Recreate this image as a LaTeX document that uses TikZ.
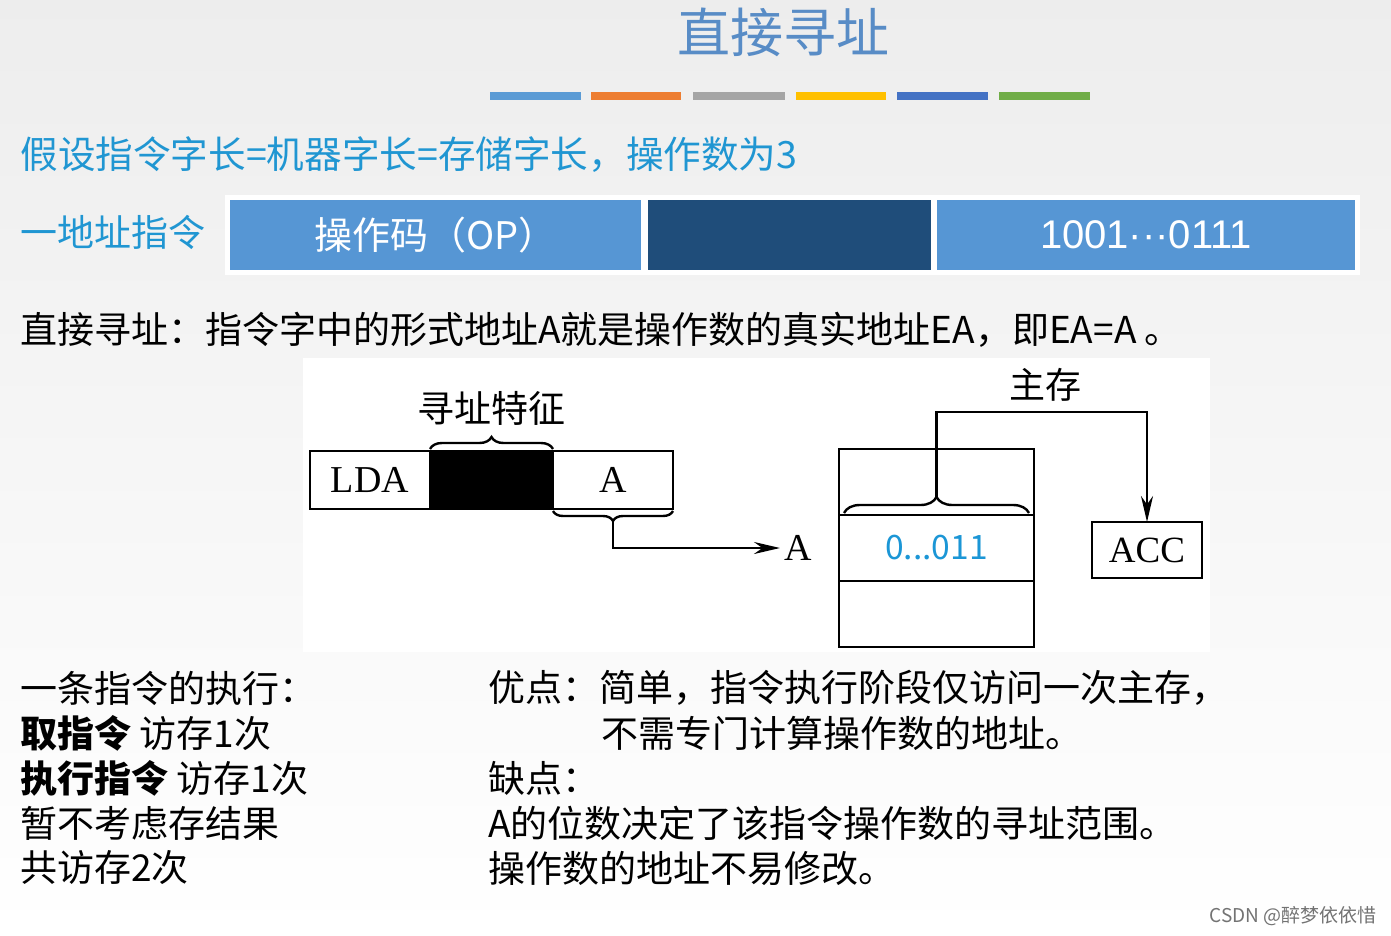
\documentclass[tikz,border=0pt]{standalone}
\usepackage{fontspec}
\setmainfont{Noto Sans CJK SC}
\newfontfamily\serifen{Liberation Serif}
\newfontfamily\sansen{Liberation Sans}
\usepackage{tikz}
\usetikzlibrary{positioning, arrows.meta, decorations.pathreplacing, calc}
\usepackage{xcolor}

\definecolor{titleblue}{RGB}{88,140,198}
\definecolor{hintcyan}{RGB}{32,150,210}
\definecolor{oplight}{RGB}{86,150,212}
\definecolor{opdark}{RGB}{31,77,122}
\definecolor{memcyan}{RGB}{27,150,214}
\definecolor{barblue}{RGB}{91,155,213}
\definecolor{barorange}{RGB}{237,125,49}
\definecolor{bargray}{RGB}{165,165,165}
\definecolor{bargold}{RGB}{255,192,0}
\definecolor{barnavy}{RGB}{68,114,196}
\definecolor{bargreen}{RGB}{112,173,71}

\begin{document}
\begin{tikzpicture}[
        x=0.5pt, y=-0.5pt,
        textline/.style={
            anchor=west,
            inner sep=0pt,
            font=\fontsize{18.5}{22}\selectfont
        },
        field/.style={
            rectangle,
            fill=oplight,
            text=white,
            minimum height=35pt,
            inner sep=0pt,
            outer sep=0pt,
            font=\fontsize{19}{19}\selectfont
        },
        cell/.style={
            rectangle,
            draw,
            line width=1.3pt,
            minimum width=60pt,
            minimum height=29pt,
            inner sep=0pt,
            outer sep=0pt,
            font=\serifen\fontsize{19}{19}\selectfont
        },
        memcell/.style={
            rectangle,
            draw,
            line width=1.3pt,
            minimum width=97.5pt,
            minimum height=33pt,
            inner sep=0pt,
            outer sep=0pt
        },
        brace/.style={
            decorate,
            decoration={brace, amplitude=#1, raise=1pt},
            line width=1.2pt
        },
        arrow/.style={
            -{Stealth[length=13pt, width=6pt]},
            line width=1.3pt
        }
    ]

        % Tło slajdu
        \useasboundingbox (0,0) rectangle (1391,936);
        \shade[top color=black!7, bottom color=white] (0,0) rectangle (1391,936);

        % Tytuł i paski kolorów
        \node[font=\fontsize{26.5}{27}\selectfont, text=titleblue] (title) at (783,32) {直接寻址};
        \fill[barblue]   (490,92) rectangle (581,100);
        \fill[barorange] (591,92) rectangle (681,100);
        \fill[bargray]   (693,92) rectangle (785,100);
        \fill[bargold]   (796,92) rectangle (886,100);
        \fill[barnavy]   (897,92) rectangle (988,100);
        \fill[bargreen]  (999,92) rectangle (1090,100);

        % Założenie i format rozkazu
        \node[textline, text=hintcyan, font=\fontsize{18.8}{22}\selectfont] (assume) at (20,155) {假设指令字长=机器字长=存储字长，操作数为3};
        \node[textline, text=hintcyan] (onead) at (20,232) {一地址指令};
        \fill[white] (225,195) rectangle (1360,275);
        \node[field, minimum width=205.5pt] (opcode) at (435.5,235) {操作码（OP）};
        \node[field, fill=opdark, minimum width=141.5pt, right=3.5pt of opcode] (mode) {};
        \node[field, minimum width=209pt, right=3pt of mode, font=\sansen\fontsize{20}{20}\selectfont] (addrfield) {1001···0111};

        % Definicja
        \node[textline] (defn) at (20,330) {直接寻址：指令字中的形式地址A就是操作数的真实地址EA，即EA=A 。};

        % Rysunek
        \fill[white] (303,358) rectangle (1210,652);
        \node[cell] (lda) at (370,480) {LDA};
        \node[cell, fill=black, minimum width=61.5pt, right=0pt of lda] (feat) {};
        \node[cell, right=0pt of feat] (addr) {A};
        \draw[brace=6pt] (feat.north west) -- (feat.north east);
        \node[font=\fontsize{18.5}{19}\selectfont] (featlabel) at (491,408) {寻址特征};
        \draw[brace=5pt] (addr.south east) -- (addr.south west);
        \coordinate (atip) at ($(addr.south)+(0,12)$);
        \node[anchor=west, inner sep=2pt, font=\serifen\fontsize{19}{19}\selectfont] (atarget) at (780,548) {A};
        \draw[arrow] (atip) |- (atarget.west);

        % Pamięć główna i akumulator
        \node[memcell] (mtop) at (936.5,482) {};
        \node[memcell, below=0pt of mtop, text=memcyan, font=\fontsize{16.8}{17}\selectfont] (mdata) {0...011};
        \node[memcell, below=0pt of mdata] (mbot) {};
        \draw[brace=8pt] ($(mtop.south west)+(5,0)$) -- ($(mtop.south east)+(-5,0)$);
        \coordinate (mtip) at ($(mtop.south)+(0,-18)$);
        \node[font=\fontsize{18}{19}\selectfont] (memlabel) at (1045,385) {主存};
        \node[cell, minimum width=55pt, minimum height=28pt, font=\serifen\fontsize{18.5}{19}\selectfont] (acc) at (1147,550) {ACC};
        \coordinate (bend) at (1147,412);
        \draw[arrow] (mtip) |- (bend) -- (acc.north);

        % Wykonanie rozkazu
        \node[textline] (exec1) at (20,688) {一条指令的执行：};
        \node[textline] (exec2) at (20,733) {{\bfseries 取指令} 访存1次};
        \node[textline] (exec3) at (20,778) {{\bfseries 执行指令} 访存1次};
        \node[textline] (exec4) at (20,823) {暂不考虑存结果};
        \node[textline] (exec5) at (20,868) {共访存2次};

        % Zalety i wady
        \node[textline] (pro1) at (488,688) {优点：简单，指令执行阶段仅访问一次主存，};
        \node[textline] (pro2) at (601,733) {不需专门计算操作数的地址。};
        \node[textline] (con0) at (488,778) {缺点：};
        \node[textline] (con1) at (488,823) {A的位数决定了该指令操作数的寻址范围。};
        \node[textline] (con2) at (488,868) {操作数的地址不易修改。};

        % Znak wodny
        \node[anchor=east, inner sep=0pt, text=black!55, font=\fontsize{9.5}{10}\selectfont] (mark) at (1377,916) {CSDN @醉梦依依惜};

    \end{tikzpicture}
\end{document}
